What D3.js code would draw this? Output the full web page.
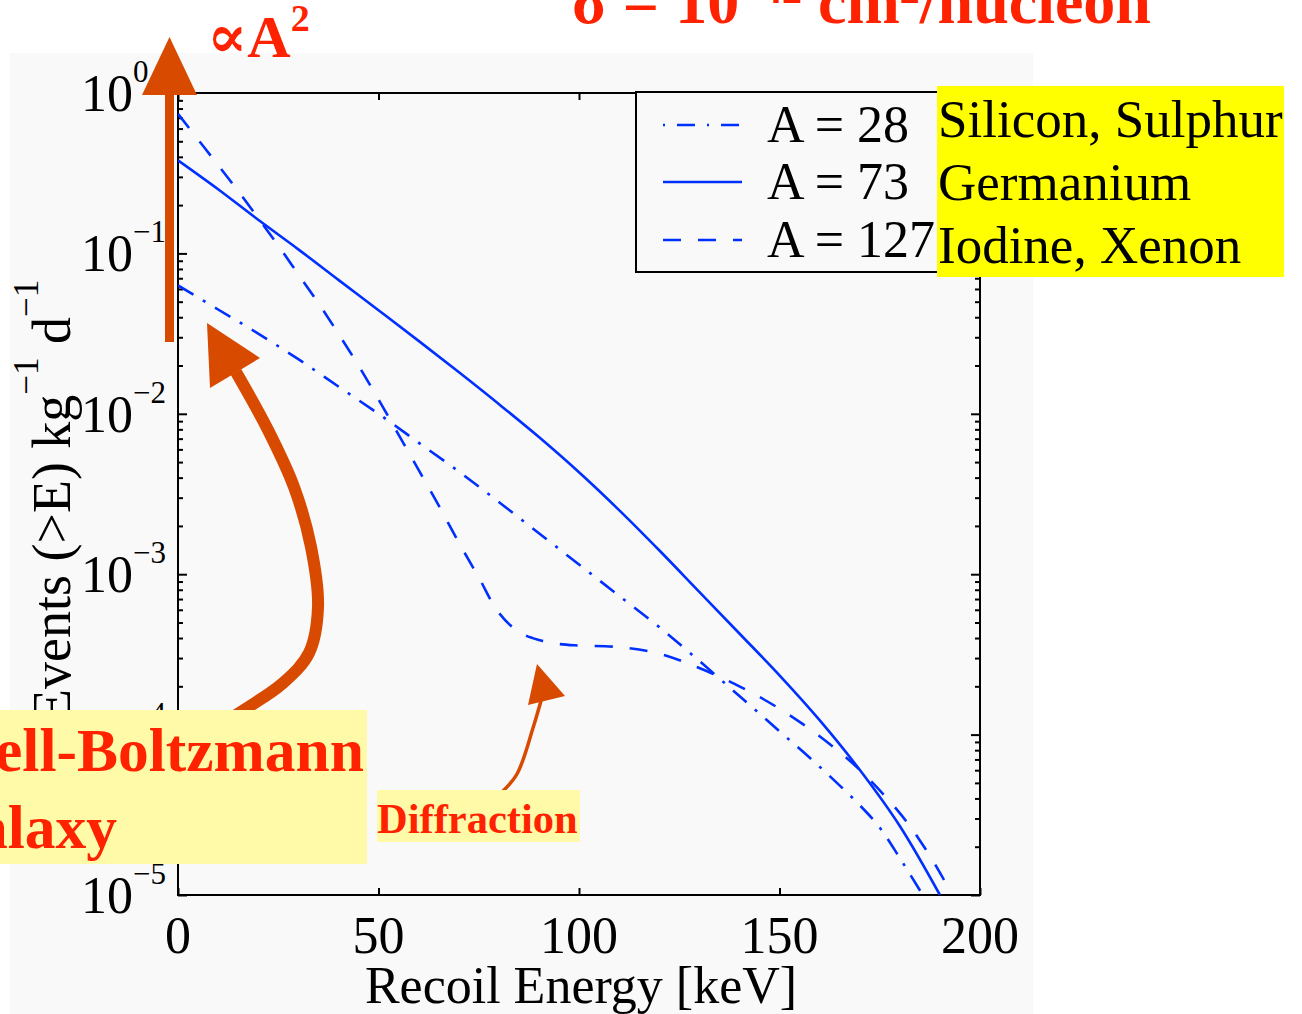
<!DOCTYPE html>
<html>
<head>
<meta charset="utf-8">
<script src="https://cdn.jsdelivr.net/npm/d3@7"></script>
<style>
  body { margin: 0; background: #ffffff; }
  svg { display: block; }
  text { font-family: "Liberation Serif", "Times New Roman", "DejaVu Serif", serif; }
</style>
</head>
<body>
<svg id="chart" width="1302" height="1014"></svg>
<script>
// Integrated WIMP event rates above recoil energy E, for three target nuclei
const energyA28 = [0, 10, 20, 30, 40, 50, 60, 70, 80, 90, 100, 110, 120, 130, 140, 150, 160, 170, 175, 180, 185, 187];
const eventsA28 = [0.0631, 0.0447, 0.0316, 0.0219, 0.0148, 0.0100, 0.00661, 0.00437, 0.00282, 0.00180,
                   0.00115, 7.33e-4, 4.68e-4, 2.88e-4, 1.74e-4, 1.05e-4, 6.31e-5, 3.63e-5, 2.63e-5, 1.70e-5,
                   1.07e-5, 8.9e-6];

const energyA73 = [0, 10, 20, 30, 40, 50, 60, 70, 80, 90, 100, 110, 120, 130, 140, 150, 160, 170, 180, 190];
const eventsA73 = [0.38, 0.251, 0.162, 0.106, 0.0684, 0.0442, 0.0285, 0.0182, 0.0115, 0.00716,
                   0.00432, 0.00251, 0.00141, 7.76e-4, 4.27e-4, 2.34e-4, 1.23e-4, 6.03e-5, 2.69e-5, 1.0e-5];

const energyA127 = [0, 5, 10, 15, 20, 25, 30, 35, 40, 45, 50, 55, 60, 65, 70, 75, 80, 85, 90, 95,
                    100, 110, 120, 130, 140, 150, 160, 170, 180, 185, 190, 193];
const eventsA127 = [0.741, 0.513, 0.355, 0.245, 0.166, 0.112, 0.0741, 0.049, 0.0316, 0.020, 0.0123,
                    0.00741, 0.00447, 0.00269, 0.00158, 9.55e-4, 5.75e-4, 4.37e-4, 3.89e-4, 3.67e-4,
                    3.59e-4, 3.51e-4, 3.20e-4, 2.60e-4, 2.0e-4, 1.45e-4, 9.77e-5, 6.03e-5, 3.24e-5,
                    2.19e-5, 1.38e-5, 1.0e-5];

const legendLabels = ["A = 28", "A = 73", "A = 127"];
const targetNames = ["Silicon, Sulphur", "Germanium", "Iodine, Xenon"];
const xTickValues = [0, 50, 100, 150, 200];
const yTickExponents = [0, -1, -2, -3, -4, -5];

const svg = d3.select("#chart");
const RED = "#ff2200";
const ARROW = "#d74a00";
const BLUE = "#0030ff";
const PANEL = "#f9f9f9";

// Figure panel
svg.append("rect").attr("x", 10).attr("y", 53).attr("width", 1023).attr("height", 961).attr("fill", PANEL);

const x = d3.scaleLinear().domain([0, 200]).range([178, 980]);
const y = d3.scaleLog().domain([1e-5, 1]).range([895, 93]);

// Ticks (major + minor, drawn inward on all four sides)
const majorY = yTickExponents.map(e => Math.pow(10, e));
const minorY = [];
yTickExponents.slice(1).forEach(e => { for (let m = 2; m <= 9; m++) minorY.push(m * Math.pow(10, e)); });

function styleAxis(g) {
  g.select(".domain").remove();
  g.selectAll(".tick line").attr("stroke", "#000").attr("stroke-width", 2);
  g.selectAll(".tick text").remove();
}
svg.append("g").attr("transform", "translate(178,0)")
  .call(d3.axisLeft(y).tickValues(majorY).tickSize(-9).tickFormat("")).call(styleAxis);
svg.append("g").attr("transform", "translate(178,0)")
  .call(d3.axisLeft(y).tickValues(minorY).tickSize(-5).tickFormat("")).call(styleAxis);
svg.append("g").attr("transform", "translate(980,0)")
  .call(d3.axisRight(y).tickValues(majorY).tickSize(-9).tickFormat("")).call(styleAxis);
svg.append("g").attr("transform", "translate(980,0)")
  .call(d3.axisRight(y).tickValues(minorY).tickSize(-5).tickFormat("")).call(styleAxis);
svg.append("g").attr("transform", "translate(0,895)")
  .call(d3.axisBottom(x).tickValues(xTickValues).tickSize(-7).tickFormat("")).call(styleAxis);
svg.append("g").attr("transform", "translate(0,93)")
  .call(d3.axisTop(x).tickValues(xTickValues).tickSize(-7).tickFormat("")).call(styleAxis);

// Axes frame
svg.append("rect").attr("x", 178).attr("y", 93).attr("width", 802).attr("height", 802)
  .attr("fill", "none").attr("stroke", "#000").attr("stroke-width", 2);

// Tick labels
const yLab = svg.append("g").attr("font-size", 52).attr("fill", "#000");
yTickExponents.forEach(e => {
  const t = yLab.append("text").attr("x", 81).attr("y", y(Math.pow(10, e)) + 18);
  t.append("tspan").text("10");
  t.append("tspan").attr("font-size", 31).attr("dy", -29).text(e === 0 ? "0" : "\u2212" + Math.abs(e));
});
svg.append("g").attr("font-size", 52).attr("text-anchor", "middle")
  .selectAll("text").data(xTickValues).join("text")
  .attr("x", d => x(d)).attr("y", 953).text(d => d);

// Axis titles
svg.append("text").attr("x", 581).attr("y", 1003).attr("text-anchor", "middle")
  .attr("font-size", 52).text("Recoil Energy [keV]");
const yt = svg.append("text").attr("transform", "translate(70,722) rotate(-90)").attr("font-size", 54);
yt.append("tspan").text("Events (>E) kg");
yt.append("tspan").attr("font-size", 35).attr("dy", -32).text("\u22121");
yt.append("tspan").attr("dy", 32).text(" d");
yt.append("tspan").attr("font-size", 35).attr("dy", -32).text("\u22121");

// Curves
svg.append("clipPath").attr("id", "plotClip")
  .append("rect").attr("x", 178).attr("y", 93).attr("width", 802).attr("height", 802);

const series = [
  { energy: energyA28, events: eventsA28, dash: "18,11,3,11" },
  { energy: energyA73, events: eventsA73, dash: null },
  { energy: energyA127, events: eventsA127, dash: "18,17" }
];
const line = d3.line().x(d => x(d[0])).y(d => y(d[1])).curve(d3.curveCatmullRom);
const curves = svg.append("g").attr("clip-path", "url(#plotClip)");
series.forEach(s => {
  curves.append("path")
    .attr("d", line(s.energy.map((e, i) => [e, s.events[i]])))
    .attr("fill", "none").attr("stroke", BLUE).attr("stroke-width", 2.6)
    .attr("stroke-dasharray", s.dash);
});

// Legend
const leg = svg.append("g");
leg.append("rect").attr("x", 636).attr("y", 92).attr("width", 312).attr("height", 180)
  .attr("fill", PANEL).attr("stroke", "#000").attr("stroke-width", 2);
const legRows = [125, 182, 240];
series.forEach((s, i) => {
  leg.append("line").attr("x1", 663).attr("x2", 742).attr("y1", legRows[i]).attr("y2", legRows[i])
    .attr("stroke", BLUE).attr("stroke-width", 2.6).attr("stroke-dasharray", i === 0 ? "2,12,18,12" : s.dash);
  leg.append("text").attr("x", 767).attr("y", legRows[i] + 17).attr("font-size", 52).text(legendLabels[i]);
});

// Target names
svg.append("rect").attr("x", 937).attr("y", 86).attr("width", 347).attr("height", 191).attr("fill", "#ffff00");
svg.append("g").attr("font-size", 53).selectAll("text").data(targetNames).join("text")
  .attr("x", 938).attr("y", (d, i) => 137 + i * 63).text(d => d);

// Header
const title = svg.append("text").attr("x", 572).attr("y", 23).attr("font-size", 64)
  .attr("font-weight", "bold").attr("fill", RED);
title.append("tspan").text("\u03c3 = 10");
title.append("tspan").attr("font-size", 40).attr("dy", -20).text("\u221242");
title.append("tspan").attr("dy", 20).text(" cm");
title.append("tspan").attr("font-size", 40).attr("dy", -20).text("2");
title.append("tspan").attr("dy", 20).text("/nucleon");

const prop = svg.append("text").attr("x", 207).attr("y", 57).attr("font-size", 60)
  .attr("font-weight", "bold").attr("fill", RED);
prop.append("tspan").text("\u221dA");
prop.append("tspan").attr("font-size", 38).attr("dy", -26).text("2");

// Vertical arrow (rate scales with A^2)
svg.append("rect").attr("x", 165).attr("y", 92).attr("width", 9).attr("height", 250).attr("fill", ARROW);
svg.append("path").attr("d", "M169.5,37 L142,95 L197,95 Z").attr("fill", ARROW);

// Curved arrow from the halo-model label
const swoop = [[212, 730], [247, 708], [283, 683], [309, 653], [318, 607], [311, 547], [294, 487], [268, 430], [236, 372]];
svg.append("path").attr("d", d3.line().curve(d3.curveCatmullRom)(swoop))
  .attr("fill", "none").attr("stroke", ARROW).attr("stroke-width", 12);
svg.append("path").attr("d", "M207,323 L210,388 L260,358 Z").attr("fill", ARROW);

// Halo model label
svg.append("rect").attr("x", 0).attr("y", 710).attr("width", 367).attr("height", 154).attr("fill", "#fffaa8");
svg.append("text").attr("x", 364).attr("y", 771).attr("text-anchor", "end").attr("font-size", 61.5)
  .attr("font-weight", "bold").attr("fill", RED).text("Maxwell-Boltzmann");
svg.append("text").attr("x", 117).attr("y", 848).attr("text-anchor", "end").attr("font-size", 61.5)
  .attr("font-weight", "bold").attr("fill", RED).text("Galaxy");

// Diffraction label and arrow
const diffArrow = [[502, 792], [517, 774], [533, 728], [544, 690]];
svg.append("path").attr("d", d3.line().curve(d3.curveCatmullRom)(diffArrow))
  .attr("fill", "none").attr("stroke", ARROW).attr("stroke-width", 3.5);
svg.append("path").attr("d", "M537,664 L528,705 L565,696 Z").attr("fill", ARROW);
svg.append("rect").attr("x", 377).attr("y", 790).attr("width", 203).attr("height", 52).attr("fill", "#fffaa8");
svg.append("text").attr("x", 377).attr("y", 833).attr("font-size", 42.5)
  .attr("font-weight", "bold").attr("fill", RED).text("Diffraction");
</script>
</body>
</html>
